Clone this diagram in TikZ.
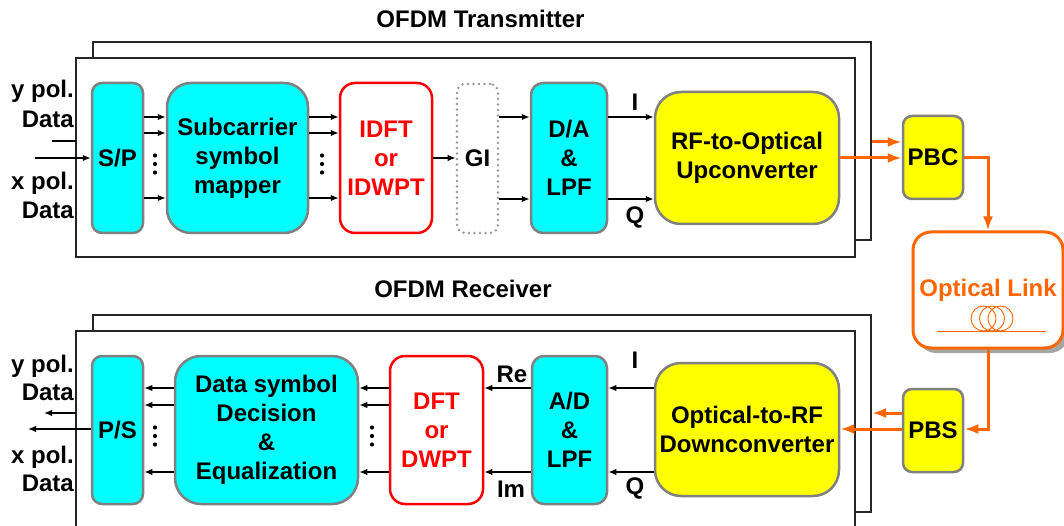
\documentclass[tikz,border=0pt]{standalone}
\usepackage{fontspec}
\setmainfont{Liberation Sans}
\usetikzlibrary{arrows.meta,calc}
\definecolor{cyanbox}{HTML}{00FFFF}
\definecolor{yelbox}{HTML}{FFFF00}
\definecolor{boxgray}{HTML}{808080}
\definecolor{optorange}{HTML}{FF6600}
\begin{document}
\begin{tikzpicture}[x=1pt,y=-1pt,
  txt/.style={font=\fontsize{24}{29}\selectfont\bfseries},
  blk/.style={txt, draw=boxgray, line width=2.5pt, align=center, inner sep=0pt},
  cy/.style={blk, fill=cyanbox},
  ye/.style={blk, fill=yelbox},
  rd/.style={blk, draw=red, fill=white, text=red},
  gi/.style={blk, draw=black!40, fill=white, line width=2.8pt, line cap=round, dash pattern=on 0pt off 5.5pt},
  lbl/.style={txt, inner sep=0pt},
  arr/.style={-{Latex[length=8pt,width=6.5pt]}, line width=1.5pt},
  oarr/.style={draw=optorange, line width=3pt, -{Latex[length=14pt,width=10pt]}},
  oline/.style={draw=optorange, line width=3pt},
  frame/.style={draw=black!85, line width=1.5pt, fill=white},
  dot/.style={circle, fill=black, inner sep=0pt, minimum size=4.2pt}
]
\clip (0,0) rectangle (1064,526);
\useasboundingbox (0,0) rectangle (1064,526);

% titles
\node[lbl, anchor=base] (ttx) at (480.5,28) {OFDM Transmitter};
\node[lbl, anchor=base] (trx) at (463,298) {OFDM Receiver};

% frames
\draw[frame] (93,42) rectangle (871,240);
\draw[frame] (76,58) rectangle (855,257);
\draw[frame] (93,315) rectangle (871,512);
\draw[frame] (76,331) rectangle (855,545);
\coordinate (txback) at (872,142);
\coordinate (rxback) at (872,413);
\coordinate (txfront) at (76,141);
\coordinate (rxfront) at (76,413);

% ---------------- transmitter ----------------
\node[cy, minimum width=51, minimum height=150, rounded corners=10] (sp) at (117.5,158) {S/P};
\node[cy, minimum width=141, minimum height=150, rounded corners=24] (map) at (237.5,158) {Subcarrier\\symbol\\mapper};
\node[rd, minimum width=92, minimum height=150, rounded corners=15] (idft) at (386,158) {IDFT\\or\\IDWPT};
\node[gi, minimum width=41, minimum height=149, rounded corners=8] (gi) at (477.5,158.5) {};
\node[lbl] (gitext) at (gi.center) {GI};
\node[cy, minimum width=76, minimum height=150, rounded corners=12] (da) at (569,158) {D/A\\\&\\LPF};
\node[ye, minimum width=184, minimum height=132, rounded corners=26] (rf) at (747,158) {RF-to-Optical\\Upconverter};
\node[ye, minimum width=60, minimum height=83, rounded corners=9] (pbc) at (933,157.5) {PBC};

% optical link
\fill[black!35, rounded corners=18] (918,237) rectangle (1068,353);
\node[blk, draw=optorange, line width=3pt, fill=white, minimum width=150, minimum height=116, rounded corners=18] (link) at (988,290) {};
\node[lbl, text=optorange] (linktext) at (988,290) {Optical Link};
\draw[optorange, line width=0.9pt] (983.5,318.5) circle (12.5) (992,318.5) circle (12.5) (1000.5,318.5) circle (12.5);
\draw[optorange, line width=0.9pt] (937,331) -- (1046,331);

\node[ye, minimum width=60, minimum height=83, rounded corners=9] (pbs) at (933,430.5) {PBS};

% ---------------- receiver ----------------
\node[cy, minimum width=51, minimum height=148, rounded corners=10] (ps) at (117.5,430) {P/S};
\node[cy, minimum width=183, minimum height=148, rounded corners=26] (dec) at (266.5,430) {Data symbol\\Decision\\\&\\Equalization};
\node[rd, minimum width=93, minimum height=148, rounded corners=15] (dft) at (436.5,430) {DFT\\or\\DWPT};
\node[cy, minimum width=75, minimum height=148, rounded corners=12] (ad) at (569.5,430) {A/D\\\&\\LPF};
\node[ye, minimum width=184, minimum height=133, rounded corners=26] (orf) at (747,429.5) {Optical-to-RF\\Downconverter};

% side labels
\node[lbl, anchor=base east] (ty) at (74,98) {y pol.};
\node[lbl, anchor=base east] (tyd) at (74,128) {Data};
\node[lbl, anchor=base east] (tx) at (74,190) {x pol.};
\node[lbl, anchor=base east] (txd) at (74,219) {Data};
\node[lbl, anchor=base east] (ry) at (74,372) {y pol.};
\node[lbl, anchor=base east] (ryd) at (74,400) {Data};
\node[lbl, anchor=base east] (rx) at (74,463) {x pol.};
\node[lbl, anchor=base east] (rxd) at (74,491) {Data};

% I/Q labels
\node[lbl] (lI1) at (635,102) {I};
\node[lbl] (lQ1) at (635,217) {Q};
\node[lbl] (lI2) at (635,360) {I};
\node[lbl] (lQ2) at (635,488) {Q};
\node[lbl] (lRe) at (512,374) {Re};
\node[lbl] (lIm) at (511,489) {Im};

% dots
\foreach \n/\x/\y in {a/155/164, b/322/164, c/155/436, d/372/436} {
  \node[dot] (d\n1) at (\x,\y-8.5) {};
  \node[dot] (d\n2) at (\x,\y) {};
  \node[dot] (d\n3) at (\x,\y+8.5) {};
}

% ---------------- transmitter connectors ----------------
\coordinate (inA) at (52,141);
\coordinate (inB) at (35,158);
\draw[line width=1.5pt] (inA) -- (txfront);
\draw[arr] (inB) -- (sp.west |- inB);
\foreach \y in {117,133,198} {
  \draw[arr] (sp.east |- 0,\y) -- (map.west |- 0,\y);
  \draw[arr] (map.east |- 0,\y) -- (idft.west |- 0,\y);
}
\draw[arr] (idft.east |- 0,158) -- (gi.west |- 0,158);
\foreach \y in {117,199} {
  \draw[arr] (gi.east |- 0,\y) -- (da.west |- 0,\y);
  \draw[arr] (da.east |- 0,\y) -- (rf.west |- 0,\y);
}
\draw[oarr] (rf.east |- 0,158) -- (pbc.west |- 0,158);
\draw[oarr] (txback) -- (pbc.west |- txback);
\draw[oarr] (pbc.east |- 0,158) -| (link.north);
\draw[oarr] (link.south) |- (pbs.east |- 0,429);
\draw[oarr] (pbs.west |- 0,429) -- (orf.east |- 0,429);
\draw[oarr] (pbs.west |- rxback) -- (rxback);

% ---------------- receiver connectors ----------------
\foreach \y in {388,472} {
  \draw[arr] (orf.west |- 0,\y) -- (ad.east |- 0,\y);
  \draw[arr] (ad.west |- 0,\y) -- (dft.east |- 0,\y);
}
\foreach \y in {388,405,472} {
  \draw[arr] (dft.west |- 0,\y) -- (dec.east |- 0,\y);
  \draw[arr] (dec.west |- 0,\y) -- (ps.east |- 0,\y);
}
\coordinate (outA) at (44,413);
\coordinate (outB) at (28,429);
\draw[arr] (rxfront) -- (outA);
\draw[arr] (ps.west |- outB) -- (outB);
\end{tikzpicture}
\end{document}
